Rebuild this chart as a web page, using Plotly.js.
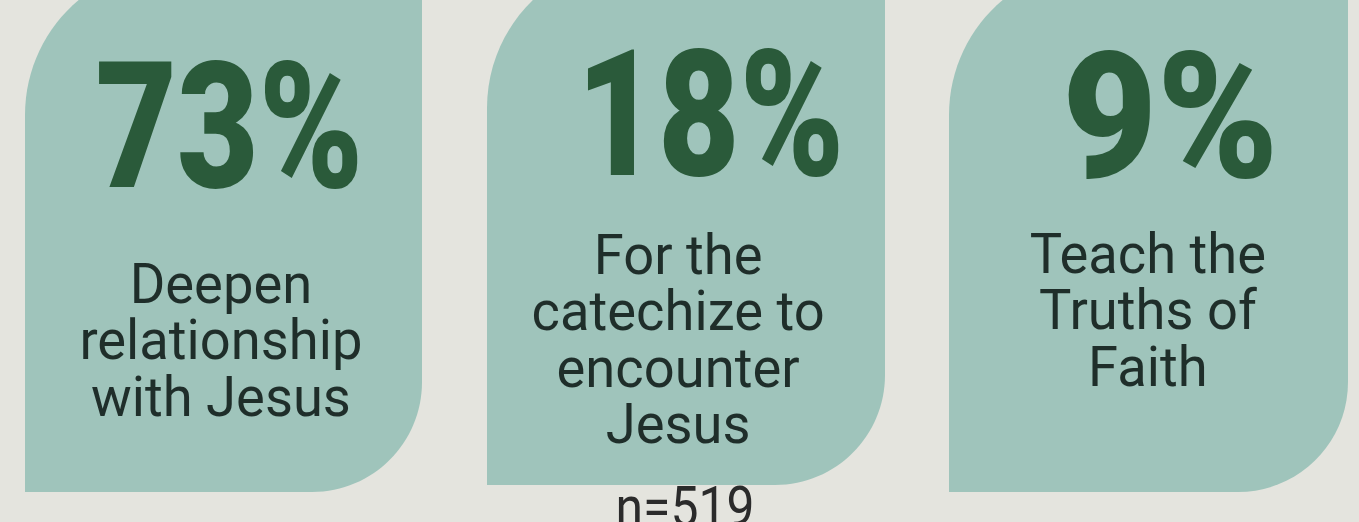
<!DOCTYPE html>
<html>
<head>
<meta charset="utf-8">
<script src="https://cdn.plot.ly/plotly-3.0.1.min.js"></script>
<style>
html,body{margin:0;padding:0;background:#e4e4de;}
#chart{width:1359px;height:522px;}
</style>
</head>
<body>
<div id="chart"></div>
<script>
// ---- data ----
const values = [73, 18, 9];
const labelLines = [
  ["Deepen", "relationship", "with Jesus"],
  ["For the", "catechize to", "encounter", "Jesus"],
  ["Teach the", "Truths of", "Faith"]
];
const sampleNote = "n=519";

// ---- layout / style (not data) ----
const W = 1359, H = 522;
const cardBoxes = [
  {x0: 25,  x1: 422,  y1: 492},
  {x0: 487, x1: 885,  y1: 485},
  {x0: 949, x1: 1348, y1: 492}
];
const cardHeight = 527;
const rTL = 150, rBR = 110, K = 0.5523;
const pctCenterX = [229, 710, 1170];
const pctBaseline = [187, 175, 177];
const pctScale = [0.80, 0.80, 0.93];
const labelCenterX = [221, 678, 1148];
const labelFirstBaseline = [302, 273, 272];
const lineStep = 56.5;
const noteCenterX = 685, noteBaseline = 526;
const bodyScale = 0.97, noteScale = 0.89;

const cardColor = "#9fc4bb";
const pctColor = "#2a5a3a";
const textColor = "#1f2e2a";
const bgColor = "#e4e4de";

const pctSize = 176, bodySize = 56;
const ASC = 0.928, MID = 0.342;

function cardPath(b) {
  const y0 = b.y1 - cardHeight;
  const k1 = K * rTL, k2 = K * rBR;
  return `M ${b.x0} ${y0 + rTL} ` +
    `C ${b.x0} ${y0 + rTL - k1} ${b.x0 + rTL - k1} ${y0} ${b.x0 + rTL} ${y0} ` +
    `L ${b.x1} ${y0} ` +
    `L ${b.x1} ${b.y1 - rBR} ` +
    `C ${b.x1} ${b.y1 - rBR + k2} ${b.x1 - rBR + k2} ${b.y1} ${b.x1 - rBR} ${b.y1} ` +
    `L ${b.x0} ${b.y1} Z`;
}

const shapes = cardBoxes.map(b => ({
  type: "path", xref: "x", yref: "y", path: cardPath(b),
  fillcolor: cardColor, line: {width: 0}, layer: "below"
}));

const annotations = [];
const scales = [];
function addText(txt, x, y, yanchor, size, color, weight, scale) {
  annotations.push({
    xref: "x", yref: "y", x: x, y: y,
    xanchor: "center", yanchor: yanchor, showarrow: false,
    text: txt, borderpad: 0, align: "center",
    font: {family: "Roboto, sans-serif", size: size, color: color, weight: weight}
  });
  scales.push(scale);
}
values.forEach((v, i) => {
  addText(v + "%", pctCenterX[i], pctBaseline[i] - MID * pctSize, "middle",
          pctSize, pctColor, 900, pctScale[i]);
  addText(labelLines[i].join("<br>"), labelCenterX[i],
          labelFirstBaseline[i] - ASC * bodySize, "top",
          bodySize, textColor, 400, bodyScale);
});
addText(sampleNote, noteCenterX, noteBaseline - MID * bodySize, "middle",
        bodySize, "#2b2b2b", 400, noteScale);

const layout = {
  width: W, height: H,
  margin: {l: 0, r: 0, t: 0, b: 0},
  paper_bgcolor: bgColor, plot_bgcolor: bgColor,
  xaxis: {range: [0, W], visible: false, fixedrange: true},
  yaxis: {range: [H, 0], visible: false, fixedrange: true},
  shapes: shapes, annotations: annotations, showlegend: false
};

Plotly.newPlot("chart", [], layout, {displayModeBar: false, staticPlot: true}).then(gd => {
  gd.querySelectorAll("g.annotation").forEach(g => {
    const idx = parseInt(g.getAttribute("data-index"), 10);
    const t = g.querySelector(".annotation-text");
    if (!t || isNaN(idx)) return;
    // tighter line spacing, as in the reference
    t.querySelectorAll("tspan.line").forEach((ts, n) => {
      ts.setAttribute("dy", (n * lineStep) + "px");
    });
    t.style.transformBox = "fill-box";
    t.style.transformOrigin = "center";
    t.style.transform = "scaleX(" + scales[idx] + ")";
  });
});
</script>
</body>
</html>
